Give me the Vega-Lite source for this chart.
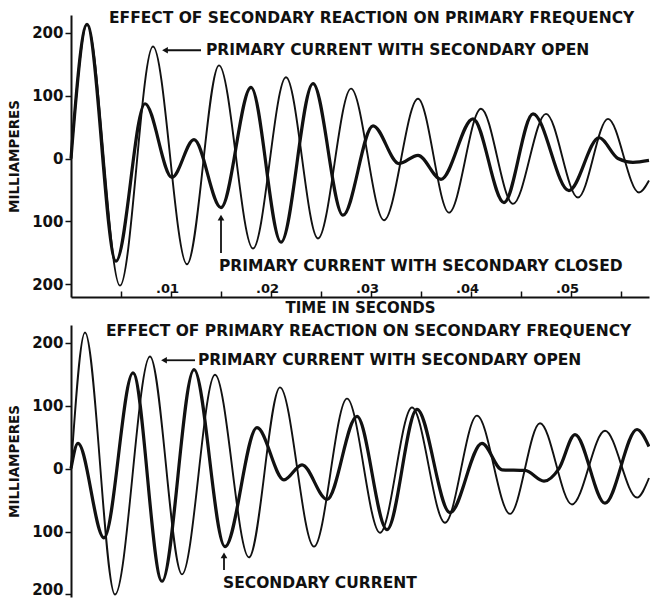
{
  "$schema": "https://vega.github.io/schema/vega-lite/v6.json",
  "background": "white",
  "padding": {"left": 7, "top": 11, "right": 2, "bottom": 0},
  "spacing": 8,
  "config": {
    "view": {"stroke": null},
    "font": "DejaVu Sans",
    "axis": {
      "grid": false,
      "domainColor": "#111",
      "tickColor": "#111",
      "labelColor": "#111",
      "titleColor": "#111",
      "labelFont": "DejaVu Sans",
      "titleFont": "DejaVu Sans",
      "labelFontWeight": "bold",
      "titleFontWeight": "bold",
      "labelOverlap": false,
      "labelBound": false,
      "labelFlush": false
    }
  },
  "datasets": {
    "top": [
      {"t": 0, "mA": 0, "s": "open"},
      {"t": 0.0016, "mA": 213, "s": "open"},
      {"t": 0.0049, "mA": -202, "s": "open"},
      {"t": 0.0082, "mA": 178, "s": "open"},
      {"t": 0.0116, "mA": -168, "s": "open"},
      {"t": 0.0148, "mA": 148, "s": "open"},
      {"t": 0.0182, "mA": -143, "s": "open"},
      {"t": 0.0215, "mA": 129, "s": "open"},
      {"t": 0.0247, "mA": -127, "s": "open"},
      {"t": 0.0280, "mA": 111, "s": "open"},
      {"t": 0.0313, "mA": -98, "s": "open"},
      {"t": 0.0347, "mA": 95, "s": "open"},
      {"t": 0.0378, "mA": -86, "s": "open"},
      {"t": 0.0410, "mA": 79, "s": "open"},
      {"t": 0.0442, "mA": -72, "s": "open"},
      {"t": 0.0475, "mA": 71, "s": "open"},
      {"t": 0.0507, "mA": -62, "s": "open"},
      {"t": 0.0537, "mA": 63, "s": "open"},
      {"t": 0.0568, "mA": -54, "s": "open"},
      {"t": 0.0578, "mA": -35, "s": "open"},
      {"t": 0, "mA": 0, "s": "closed"},
      {"t": 0.0016, "mA": 213, "s": "closed"},
      {"t": 0.0045, "mA": -163, "s": "closed"},
      {"t": 0.0074, "mA": 87, "s": "closed"},
      {"t": 0.0101, "mA": -30, "s": "closed"},
      {"t": 0.0123, "mA": 30, "s": "closed"},
      {"t": 0.0150, "mA": -78, "s": "closed"},
      {"t": 0.0180, "mA": 113, "s": "closed"},
      {"t": 0.0210, "mA": -133, "s": "closed"},
      {"t": 0.0242, "mA": 119, "s": "closed"},
      {"t": 0.0272, "mA": -90, "s": "closed"},
      {"t": 0.0302, "mA": 52, "s": "closed"},
      {"t": 0.0328, "mA": -8, "s": "closed"},
      {"t": 0.0347, "mA": 5, "s": "closed"},
      {"t": 0.0370, "mA": -33, "s": "closed"},
      {"t": 0.0402, "mA": 63, "s": "closed"},
      {"t": 0.0433, "mA": -70, "s": "closed"},
      {"t": 0.0462, "mA": 71, "s": "closed"},
      {"t": 0.0498, "mA": -51, "s": "closed"},
      {"t": 0.0528, "mA": 33, "s": "closed"},
      {"t": 0.0547, "mA": 0, "s": "closed"},
      {"t": 0.0562, "mA": -6, "s": "closed"},
      {"t": 0.0578, "mA": -3, "s": "closed"}
    ],
    "bottom": [
      {"t": 0, "mA": 0, "s": "open"},
      {"t": 0.0014, "mA": 216, "s": "open"},
      {"t": 0.0044, "mA": -200, "s": "open"},
      {"t": 0.0079, "mA": 178, "s": "open"},
      {"t": 0.0111, "mA": -168, "s": "open"},
      {"t": 0.0144, "mA": 149, "s": "open"},
      {"t": 0.0178, "mA": -141, "s": "open"},
      {"t": 0.0209, "mA": 129, "s": "open"},
      {"t": 0.0243, "mA": -124, "s": "open"},
      {"t": 0.0276, "mA": 111, "s": "open"},
      {"t": 0.0309, "mA": -102, "s": "open"},
      {"t": 0.0341, "mA": 97, "s": "open"},
      {"t": 0.0374, "mA": -86, "s": "open"},
      {"t": 0.0406, "mA": 84, "s": "open"},
      {"t": 0.0439, "mA": -72, "s": "open"},
      {"t": 0.0469, "mA": 72, "s": "open"},
      {"t": 0.0501, "mA": -57, "s": "open"},
      {"t": 0.0534, "mA": 60, "s": "open"},
      {"t": 0.0566, "mA": -46, "s": "open"},
      {"t": 0.0578, "mA": -15, "s": "open"},
      {"t": 0, "mA": 0, "s": "closed"},
      {"t": 0.0007, "mA": 40, "s": "closed"},
      {"t": 0.0033, "mA": -110, "s": "closed"},
      {"t": 0.0062, "mA": 152, "s": "closed"},
      {"t": 0.0091, "mA": -179, "s": "closed"},
      {"t": 0.0123, "mA": 157, "s": "closed"},
      {"t": 0.0154, "mA": -124, "s": "closed"},
      {"t": 0.0186, "mA": 65, "s": "closed"},
      {"t": 0.0213, "mA": -18, "s": "closed"},
      {"t": 0.0231, "mA": 6, "s": "closed"},
      {"t": 0.0256, "mA": -49, "s": "closed"},
      {"t": 0.0286, "mA": 83, "s": "closed"},
      {"t": 0.0316, "mA": -97, "s": "closed"},
      {"t": 0.0346, "mA": 94, "s": "closed"},
      {"t": 0.0379, "mA": -70, "s": "closed"},
      {"t": 0.0411, "mA": 40, "s": "closed"},
      {"t": 0.0431, "mA": -2, "s": "closed"},
      {"t": 0.0454, "mA": -3, "s": "closed"},
      {"t": 0.0473, "mA": -20, "s": "closed"},
      {"t": 0.0488, "mA": 0, "s": "closed"},
      {"t": 0.0504, "mA": 54, "s": "closed"},
      {"t": 0.0534, "mA": -55, "s": "closed"},
      {"t": 0.0566, "mA": 62, "s": "closed"},
      {"t": 0.0578, "mA": 35, "s": "closed"}
    ],
    "topText": [
      {"t": 0.0038, "mA": 223, "label": "EFFECT OF SECONDARY REACTION ON PRIMARY FREQUENCY"},
      {"t": 0.0135, "mA": 172, "label": "PRIMARY CURRENT WITH SECONDARY OPEN"},
      {"t": 0.0148, "mA": -171, "label": "PRIMARY CURRENT WITH SECONDARY CLOSED"}
    ],
    "bottomText": [
      {"t": 0.0035, "mA": 218, "label": "EFFECT OF PRIMARY REACTION ON SECONDARY FREQUENCY"},
      {"t": 0.0127, "mA": 172, "label": "PRIMARY CURRENT WITH SECONDARY OPEN"},
      {"t": 0.0152, "mA": -182, "label": "SECONDARY CURRENT"}
    ],
    "topArrows": [
      {"t": 0.0094, "t2": 0.0130, "v": 172, "v2": 172},
      {"t": 0.0150, "t2": 0.0150, "v": -150, "v2": -97}
    ],
    "topHeads": [
      {"t": 0.0094, "v": 172, "dir": "left"},
      {"t": 0.0150, "v": -94, "dir": "up"}
    ],
    "bottomArrows": [
      {"t": 0.0093, "t2": 0.0124, "v": 172, "v2": 172},
      {"t": 0.0153, "t2": 0.0153, "v": -161, "v2": -141}
    ],
    "bottomHeads": [
      {"t": 0.0093, "v": 172, "dir": "left"},
      {"t": 0.0153, "v": -138, "dir": "up"}
    ]
  },
  "vconcat": [
    {
      "width": 578,
      "height": 282,
      "layer": [
        {
          "mark": {"type": "rule", "color": "#111", "strokeWidth": 1.3},
          "encoding": {
            "y": {"datum": 0, "type": "quantitative", "scale": {"domain": [-220, 228], "nice": false, "zero": false}}
          }
        },
        {
          "data": {"name": "top"},
          "mark": {"type": "line", "interpolate": "monotone", "color": "#111"},
          "encoding": {
            "x": {
              "field": "t", "type": "quantitative",
              "scale": {"domain": [0, 0.0578], "nice": false, "zero": false},
              "axis": {
                "title": "TIME IN SECONDS",
                "values": [0.005, 0.01, 0.015, 0.02, 0.025, 0.03, 0.035, 0.04, 0.045, 0.05, 0.055],
                "labelExpr": "round(datum.value*1000) % 10 === 0 ? replace(format(datum.value, '.2f'), '0.', '.') : ''",
                "tickSize": -6,
                "tickWidth": 1.5,
                "domainWidth": 2,
                "labelPadding": -9,
                "labelOffset": -4,
                "labelFontSize": 13,
                "titleFontSize": 15,
                "titlePadding": 3
              }
            },
            "y": {
              "field": "mA", "type": "quantitative",
              "scale": {"domain": [-220, 228], "nice": false, "zero": false},
              "axis": {
                "title": "MILLIAMPERES",
                "values": [-200, -175, -150, -125, -100, -75, -50, -25, 0, 25, 50, 75, 100, 125, 150, 175, 200],
                "labelExpr": "datum.value % 100 === 0 ? format(abs(datum.value), 'd') : ''",
                "tickSize": 6,
                "tickWidth": 1.5,
                "domainWidth": 2,
                "labelPadding": 2,
                "labelFontSize": 15,
                "titleFontSize": 13.5,
                "titlePadding": 10
              }
            },
            "detail": {"field": "s", "type": "nominal"},
            "strokeWidth": {"field": "s", "type": "nominal", "scale": {"domain": ["open", "closed"], "range": [1.9, 3.2]}, "legend": null}
          }
        },
        {
          "data": {"name": "topText"},
          "mark": {"type": "text", "align": "left", "baseline": "middle", "fontWeight": "bold", "fontSize": 15.5, "color": "#111"},
          "encoding": {
            "x": {"field": "t", "type": "quantitative"},
            "y": {"field": "mA", "type": "quantitative"},
            "text": {"field": "label"}
          }
        },
        {
          "data": {"name": "topArrows"},
          "mark": {"type": "rule", "color": "#111", "strokeWidth": 1.8},
          "encoding": {
            "x": {"field": "t", "type": "quantitative"},
            "x2": {"field": "t2"},
            "y": {"field": "v", "type": "quantitative"},
            "y2": {"field": "v2"}
          }
        },
        {
          "data": {"name": "topHeads"},
          "mark": {"type": "point", "filled": true, "color": "#111", "opacity": 1, "size": 45},
          "encoding": {
            "x": {"field": "t", "type": "quantitative"},
            "y": {"field": "v", "type": "quantitative"},
            "shape": {"field": "dir", "type": "nominal", "scale": {"domain": ["left", "up"], "range": ["triangle-left", "triangle-up"]}, "legend": null}
          }
        }
      ]
    },
    {
      "width": 578,
      "height": 272,
      "layer": [
        {
          "mark": {"type": "rule", "color": "#111", "strokeWidth": 1.3},
          "encoding": {
            "y": {"datum": 0, "type": "quantitative", "scale": {"domain": [-204, 228], "nice": false, "zero": false}}
          }
        },
        {
          "data": {"name": "bottom"},
          "mark": {"type": "line", "interpolate": "monotone", "color": "#111"},
          "encoding": {
            "x": {
              "field": "t", "type": "quantitative",
              "scale": {"domain": [0, 0.0578], "nice": false, "zero": false},
              "axis": null
            },
            "y": {
              "field": "mA", "type": "quantitative",
              "scale": {"domain": [-204, 228], "nice": false, "zero": false},
              "axis": {
                "title": "MILLIAMPERES",
                "values": [-200, -175, -150, -125, -100, -75, -50, -25, 0, 25, 50, 75, 100, 125, 150, 175, 200],
                "labelExpr": "datum.value % 100 === 0 ? format(abs(datum.value), 'd') : ''",
                "labelBaseline": {"condition": {"test": "datum.value === -200", "value": "alphabetic"}, "value": "middle"},
                "tickSize": 6,
                "tickWidth": 1.5,
                "domainWidth": 2,
                "labelPadding": 2,
                "labelFontSize": 15,
                "titleFontSize": 13.5,
                "titlePadding": 10
              }
            },
            "detail": {"field": "s", "type": "nominal"},
            "strokeWidth": {"field": "s", "type": "nominal", "scale": {"domain": ["open", "closed"], "range": [1.9, 3.2]}, "legend": null}
          }
        },
        {
          "data": {"name": "bottomText"},
          "mark": {"type": "text", "align": "left", "baseline": "middle", "fontWeight": "bold", "fontSize": 15.5, "color": "#111"},
          "encoding": {
            "x": {"field": "t", "type": "quantitative"},
            "y": {"field": "mA", "type": "quantitative"},
            "text": {"field": "label"}
          }
        },
        {
          "data": {"name": "bottomArrows"},
          "mark": {"type": "rule", "color": "#111", "strokeWidth": 1.8},
          "encoding": {
            "x": {"field": "t", "type": "quantitative"},
            "x2": {"field": "t2"},
            "y": {"field": "v", "type": "quantitative"},
            "y2": {"field": "v2"}
          }
        },
        {
          "data": {"name": "bottomHeads"},
          "mark": {"type": "point", "filled": true, "color": "#111", "opacity": 1, "size": 45},
          "encoding": {
            "x": {"field": "t", "type": "quantitative"},
            "y": {"field": "v", "type": "quantitative"},
            "shape": {"field": "dir", "type": "nominal", "scale": {"domain": ["left", "up"], "range": ["triangle-left", "triangle-up"]}, "legend": null}
          }
        }
      ]
    }
  ]
}
